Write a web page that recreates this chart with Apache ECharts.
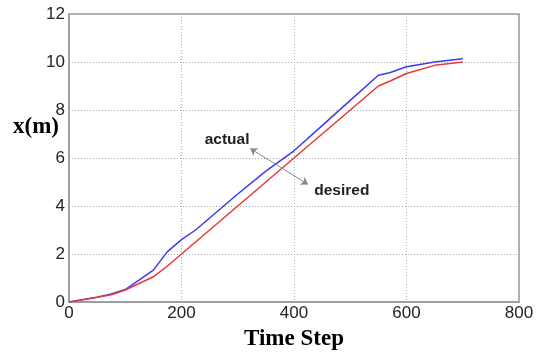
<!DOCTYPE html>
<html>
<head>
<meta charset="utf-8">
<script src="https://cdn.jsdelivr.net/npm/echarts@6/dist/echarts.min.js"></script>
<style>
  html, body { margin: 0; padding: 0; background: #fff; }
  #chart { width: 536px; height: 356px; }
</style>
</head>
<body>
<div id="chart"></div>
<script>
// Time steps and positions of the tracked trajectory
const steps = [0, 50, 75, 100, 150, 175, 200, 225, 250, 300, 350, 400, 450, 500, 550, 570, 600, 650, 700];
const actual = [0, 0.2, 0.33, 0.52, 1.33, 2.1, 2.6, 3.0, 3.5, 4.5, 5.45, 6.3, 7.35, 8.4, 9.45, 9.55, 9.8, 10.0, 10.14];
const desired = [0, 0.2, 0.3, 0.5, 1.05, 1.5, 2.0, 2.5, 3.0, 4.0, 5.0, 6.0, 7.0, 8.0, 9.0, 9.2, 9.52, 9.86, 10.0];
const xTicks = [0, 200, 400, 600, 800];
const yTicks = [0, 2, 4, 6, 8, 10, 12];

const chart = echarts.init(document.getElementById('chart'));

const pairs = (ys) => steps.map((s, i) => [s, ys[i]]);
const tickFont = { fontFamily: 'Liberation Sans', fontSize: 17, color: '#222' };
const gridLine = { show: true, lineStyle: { color: '#aaa', type: [1, 2], width: 1 } };
const noteFont = { fontFamily: 'Liberation Sans', fontWeight: 'bold', fontSize: 15.5, color: '#222' };

chart.setOption({
  animation: false,
  grid: {
    left: 69, right: 17, top: 14, bottom: 54, outerBoundsMode: 'none',
    show: true, borderColor: '#999', borderWidth: 1.5
  },
  xAxis: {
    type: 'value', min: xTicks[0], max: xTicks[xTicks.length - 1], interval: 200,
    axisLine: { show: true, lineStyle: { color: '#999', width: 1.5 } },
    axisTick: { show: false },
    axisLabel: Object.assign({ margin: 3 }, tickFont),
    splitLine: gridLine,
    name: 'Time Step', nameLocation: 'middle', nameGap: 26,
    nameTextStyle: { fontFamily: 'Liberation Serif', fontWeight: 'bold', fontSize: 23, color: '#000' }
  },
  yAxis: {
    type: 'value', min: yTicks[0], max: yTicks[yTicks.length - 1], interval: 2,
    axisLine: { show: true, lineStyle: { color: '#999', width: 1.5 } },
    axisTick: { show: false },
    axisLabel: Object.assign({ margin: 4 }, tickFont),
    splitLine: gridLine
  },
  graphic: [{
    type: 'text', left: 13, top: 116,
    style: { text: 'x(m)', fontFamily: 'Liberation Serif', fontWeight: 'bold', fontSize: 23, fill: '#000' }
  }],
  series: [
    {
      name: 'actual', type: 'line', data: pairs(actual), showSymbol: false,
      lineStyle: { color: '#3a3af0', width: 1.5 }, itemStyle: { color: '#3a3af0' },
      markPoint: {
        symbol: 'circle', symbolSize: 0,
        label: Object.assign({ show: true, formatter: '{b}' }, noteFont),
        data: [{ name: 'actual', coord: [281, 6.76] }]
      },
      markLine: {
        silent: true, symbol: ['arrow', 'arrow'], symbolSize: 7,
        lineStyle: { color: '#888', width: 1, type: 'solid' }, label: { show: false },
        data: [[{ coord: [322, 6.4] }, { coord: [425, 4.9] }]]
      }
    },
    {
      name: 'desired', type: 'line', data: pairs(desired), showSymbol: false,
      lineStyle: { color: '#e83838', width: 1.5 }, itemStyle: { color: '#e83838' },
      markPoint: {
        symbol: 'circle', symbolSize: 0,
        label: Object.assign({ show: true, formatter: '{b}' }, noteFont),
        data: [{ name: 'desired', coord: [485, 4.62] }]
      }
    }
  ]
});
</script>
</body>
</html>
